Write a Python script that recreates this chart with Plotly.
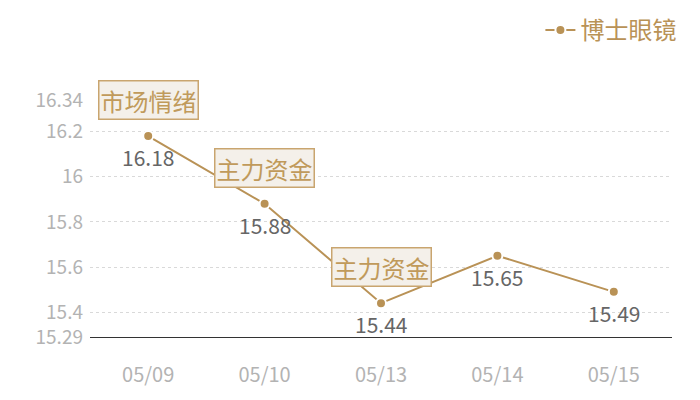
import plotly.graph_objects as go

# chart data
dates = ["05/09", "05/10", "05/13", "05/14", "05/15"]
prices = [16.18, 15.88, 15.44, 15.65, 15.49]
y_ticks = [15.29, 15.4, 15.6, 15.8, 16, 16.2, 16.34]
y_tick_text = ["15.29", "15.4", "15.6", "15.8", "16", "16.2", "16.34"]
note_dates = ["05/09", "05/10", "05/13"]
note_texts = ["市场情绪", "主力资金", "主力资金"]

gold = "#b99256"
font_family = "Noto Sans CJK SC, Noto Sans, sans-serif"

fig = go.Figure()

fig.add_trace(go.Scatter(
    x=dates,
    y=prices,
    mode="lines+markers",
    name="博士眼镜",
    line=dict(color=gold, width=2),
    marker=dict(size=10, color=gold, line=dict(width=2, color="white")),
    hoverinfo="x+y",
))

# value labels under each point
for d, v in zip(dates, prices):
    fig.add_annotation(
        x=d, y=v, text=f"{v:.2f}", showarrow=False, yshift=-21,
        font=dict(size=21, color="#666666", family=font_family),
    )

# labelled boxes above some points
for d, t in zip(note_dates, note_texts):
    fig.add_annotation(
        x=d,
        y=prices[dates.index(d)],
        text=t,
        showarrow=False,
        yshift=36,
        font=dict(size=24, color="#c09a5b", family=font_family),
        bgcolor="#f4f0ea",
        bordercolor="#c9a56f",
        borderwidth=1.5,
        borderpad=1,
    )

# page body adds an 8px offset, margins are set to allow for it
fig.update_layout(
    width=700,
    height=400,
    margin=dict(l=82, r=36, t=92, b=71, autoexpand=False),
    plot_bgcolor="white",
    paper_bgcolor="white",
    font=dict(family=font_family),
    showlegend=True,
    legend=dict(
        x=0.962,
        y=1.0,
        xref="container",
        yref="container",
        xanchor="right",
        yanchor="top",
        font=dict(size=24, color=gold),
        itemwidth=30,
        bgcolor="rgba(0,0,0,0)",
    ),
    xaxis=dict(
        type="category",
        range=[-0.5, 4.5],
        showgrid=False,
        zeroline=False,
        showline=True,
        linecolor="#333333",
        linewidth=1,
        ticks="",
        tickfont=dict(size=20, color="#b3b3b3"),
        ticklabelstandoff=20,
        automargin=False,
    ),
    yaxis=dict(
        range=[15.29, 16.34],
        tickvals=y_ticks,
        ticktext=y_tick_text,
        showgrid=True,
        gridcolor="#d9d9d9",
        griddash="dot",
        gridwidth=1,
        zeroline=False,
        showline=False,
        ticks="",
        tickfont=dict(size=19, color="#b3b3b3"),
        ticklabelstandoff=6,
        automargin=False,
    ),
)

fig.write_html("out.html")
